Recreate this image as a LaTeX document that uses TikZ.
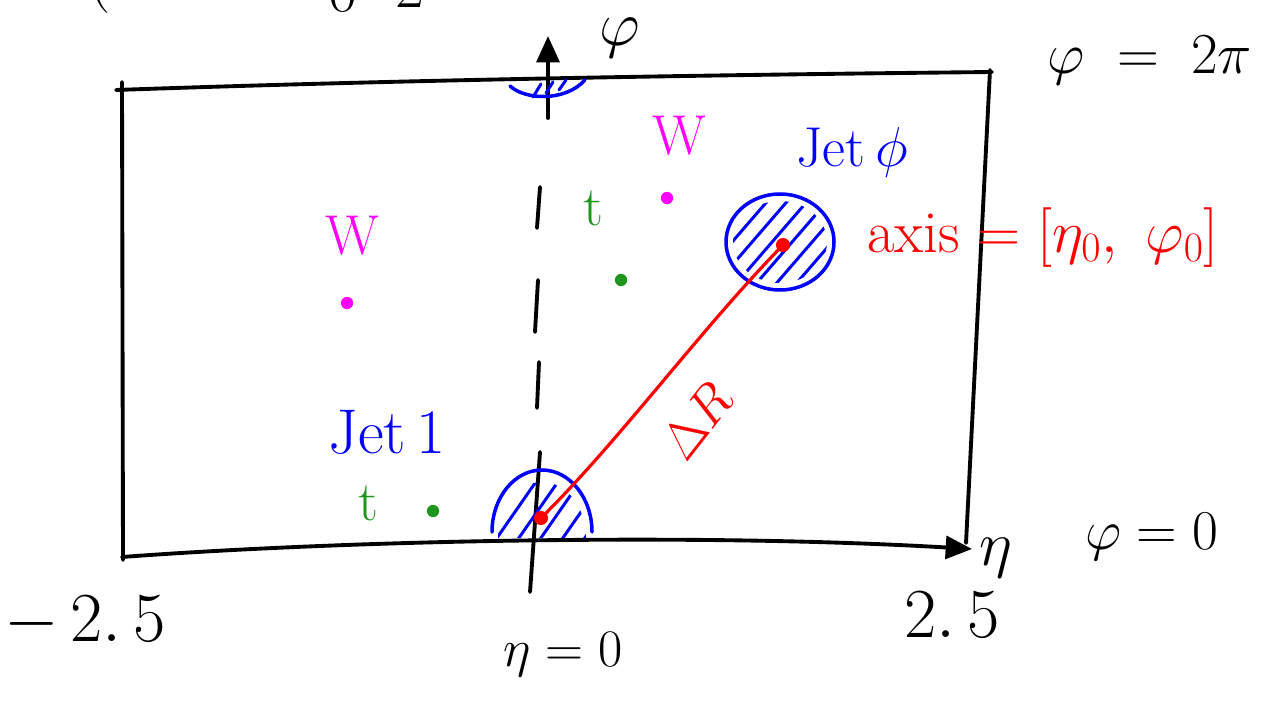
\RequirePackage{fix-cm}
\documentclass[tikz,border=0pt]{standalone}
\usetikzlibrary{arrows.meta}
\definecolor{jblue}{RGB}{0,0,255}
\definecolor{wmag}{RGB}{255,0,255}
\definecolor{tgreen}{RGB}{30,150,30}
\definecolor{rred}{RGB}{255,0,0}
\begin{document}
\begin{tikzpicture}[x=0.02cm,y=-0.02cm, line cap=round, line join=round,
  ink/.style={line width=2.2pt, black},
  tip/.style={-{Triangle[length=15pt,width=13pt]}},
  lab/.style={inner sep=0pt, font=\fontsize{36}{42}\selectfont},
  mid/.style={inner sep=0pt, font=\fontsize{32}{38}\selectfont},
  small/.style={inner sep=0pt, font=\fontsize{30}{36}\selectfont},
  big/.style={inner sep=0pt, font=\fontsize{40}{46}\selectfont},
  dot/.style={circle, inner sep=0pt, minimum size=7pt, draw=none},
  hatch/.style={jblue, line width=1.7pt},
  rim/.style={jblue, line width=2pt}]
\useasboundingbox (0,0) rectangle (1263,702);

% cut-off text at the top edge
\node[lab, anchor=base] (cut1) at (100,-2) {(};
\node[lab, anchor=base] (cut2) at (343,12) {$0$};
\node[lab, anchor=base] (cut3) at (410,8) {$2$};

% box
\draw[ink] (122,82) -- (123,560);
\draw[ink] (116,90) .. controls (400,80) and (700,75) .. (992,72);
\draw[ink] (990,70) -- (966,543);
% eta axis (bottom of box)
\draw[ink, tip] (122,557) .. controls (350,540) and (700,533) .. (972,549);
% phi axis
\draw[ink] (530,592) -- (540,452);
\draw[ink] (540,187) -- (537,228);
\draw[ink] (538,280) -- (535,332);
\draw[ink] (539,362) -- (537,408);
\draw[ink, tip] (548,118) -- (548,36);

% axis labels
\node[lab] (phiax) at (620,38) {$\varphi$};
\node[font=\fontsize{33}{40}\selectfont, inner sep=0pt] (phi2pi) at (1150,60) {$\varphi \;=\; 2\pi$};
\node[mid] (phi0) at (1152,537) {$\varphi = 0$};
\node[lab] (etaax) at (996,558) {$\eta$};
\node[big] (pos) at (952,615) {$2.\,5$};
\node[big] (neg) at (85,622) {$-\,2.\,5$};
\node[small] (eta0) at (563,655) {$\eta = 0$};

% jet 0
\draw[rim] (780,242) ellipse[x radius=54, y radius=48];
\begin{scope}
  \clip (780,242) ellipse[x radius=47, y radius=41];
  \foreach \x in {682,702,...,782} \draw[hatch] (\x,300) -- ++(95,-110);
\end{scope}
% jet 1 (dome at the bottom edge)
\draw[rim] (492,532) arc[start angle=180, end angle=360, x radius=50, y radius=62];
\begin{scope}
  \clip (498,538) arc[start angle=180, end angle=360, x radius=44, y radius=56] -- cycle;
  \foreach \x in {470,492,...,590} \draw[hatch] (\x,545) -- ++(66,-95);
\end{scope}
% wrapped part of jet 1 at the top edge
\draw[rim] (510,86) .. controls (525,100) and (565,102) .. (585,80);
\draw[hatch] (533,97) -- (541,84);
\draw[hatch] (546,93) -- (553,82);
\draw[hatch] (559,90) -- (566,80);

% jet labels
\node[mid, text=jblue] (jet0) at (852,152) {Jet\,$\phi$};
\node[lab, text=jblue] (jet1) at (387,432) {Jet\,1};

% jet axes and Delta R
\node[dot, fill=rred, minimum size=8pt] (c0) at (783,245) {};
\node[dot, fill=rred, minimum size=8pt] (c1) at (541,518) {};
\draw[rred, line width=1.8pt] (c1.center) .. controls (620,440) and (700,330) .. (c0.center);
\node[small, text=rred, rotate=52] (dR) at (697,421) {$\Delta R$};
\node[font=\fontsize{34}{40}\selectfont, inner sep=0pt, text=rred] (axis) at (1043,238) {axis $= \Bigl[\eta_0,\ \varphi_0\Bigr]$};

% W and t
\node[mid, text=wmag] (w1) at (352,236) {W};
\node[dot, fill=wmag] (wd1) at (347,303) {};
\node[mid, text=wmag] (w2) at (679,136) {W};
\node[dot, fill=wmag] (wd2) at (667,198) {};
\node[mid, text=tgreen] (t1) at (368,503) {t};
\node[dot, fill=tgreen] (td1) at (433,511) {};
\node[mid, text=tgreen] (t2) at (593,208) {t};
\node[dot, fill=tgreen] (td2) at (621,280) {};
\end{tikzpicture}
\end{document}
